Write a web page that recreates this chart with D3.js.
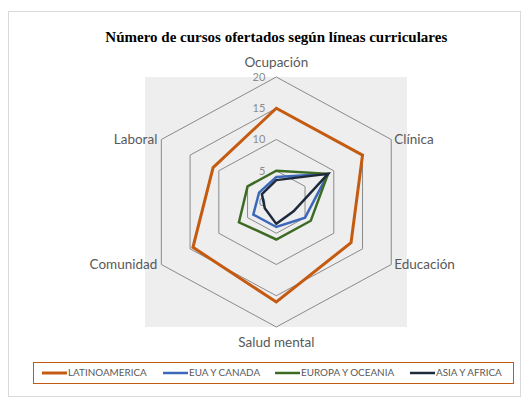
<!DOCTYPE html>
<html>
<head>
<meta charset="utf-8">
<script src="https://cdn.jsdelivr.net/npm/d3@7"></script>
<style>
  body { margin: 0; background: #fff; }
  svg { display: block; }
</style>
</head>
<body>
<div id="chart"></div>
<script>
// axes, clockwise from the top
const axes = ['Ocupación', 'Clínica', 'Educación', 'Salud mental', 'Comunidad', 'Laboral'];
const seriesNames = ['LATINOAMERICA', 'EUA Y CANADA', 'EUROPA Y OCEANIA', 'ASIA Y AFRICA'];
const latinoamerica = [15, 15, 13, 16, 14.5, 11];
const euaCanada = [4, 9, 5, 4, 4, 3];
const europaOceania = [5, 9, 6, 6, 6.5, 5];
const asiaAfrica = [3.5, 9, 3, 3.5, 2, 2.5];
const ringTicks = [0, 5, 10, 15, 20];

const W = 529, H = 403;
const cx = 276.3, cy = 202;
const stretchX = 1.062; // the source picture is slightly wider than tall
const colors = ['#c55a11', '#3d68b8', '#3e6b24', '#1e2a3c'];
const widths = [3, 2.5, 2.5, 2.5];

const svg = d3.select('#chart').append('svg')
    .attr('width', W)
    .attr('height', H);

// outer chart border
svg.append('rect')
    .attr('x', 8.5).attr('y', 11.5)
    .attr('width', 512).attr('height', 385)
    .attr('fill', '#fff')
    .attr('stroke', '#d9d9d9');

// title
svg.append('text')
    .attr('x', cx)
    .attr('y', 42)
    .attr('text-anchor', 'middle')
    .style('font-family', '"Liberation Serif", "Times New Roman", serif')
    .style('font-weight', 'bold')
    .style('font-size', '15px')
    .style('fill', '#000')
    .text('Número de cursos ofertados según líneas curriculares');

const r = d3.scaleLinear().domain([0, 20]).range([0, 125]);
const angle = d3.scaleLinear().domain([0, axes.length]).range([0, 2 * Math.PI]);

function pt(i, v) {
    const a = angle(i);
    return [cx + stretchX * r(v) * Math.sin(a), cy - r(v) * Math.cos(a)];
}

// plot area background
svg.append('rect')
    .attr('x', 145).attr('y', 77)
    .attr('width', 262).attr('height', 250)
    .attr('fill', '#eeeeee');

const line = d3.line().curve(d3.curveLinearClosed);

// rings
svg.append('g')
    .selectAll('path')
    .data(ringTicks.filter(t => t > 0))
    .enter().append('path')
    .attr('d', t => line(axes.map((_, i) => pt(i, t))))
    .attr('fill', 'none')
    .attr('stroke', '#8a8a8a')
    .attr('stroke-width', 1);

// tick labels
svg.append('g')
    .selectAll('text')
    .data(ringTicks)
    .enter().append('text')
    .attr('x', cx - 11)
    .attr('y', t => pt(0, t)[1])
    .attr('dy', '0.35em')
    .attr('text-anchor', 'end')
    .style('font-family', 'Lato, "Open Sans", sans-serif')
    .style('font-size', '11px')
    .style('fill', '#8c8c8c')
    .text(d => d);

// axis labels
const labelG = svg.append('g')
    .style('font-family', 'Lato, "Open Sans", sans-serif')
    .style('font-size', '13.5px')
    .style('fill', '#595959');

axes.forEach((name, i) => {
    const [x, y] = pt(i, 20);
    const s = Math.sin(angle(i)), c = Math.cos(angle(i));
    let anchor = 'middle', dx = 0, dy = 0;
    if (s > 0.1) { anchor = 'start'; dx = 3; }
    else if (s < -0.1) { anchor = 'end'; dx = -4; }
    else { dy = c > 0 ? -15 : 15; }
    labelG.append('text')
        .attr('x', x + dx)
        .attr('y', y + dy)
        .attr('dy', '0.35em')
        .attr('text-anchor', anchor)
        .text(name);
});

// series
const allSeries = [latinoamerica, euaCanada, europaOceania, asiaAfrica];
svg.append('g')
    .selectAll('path')
    .data(allSeries)
    .enter().append('path')
    .attr('d', vals => line(vals.map((v, i) => pt(i, v))))
    .attr('fill', 'none')
    .attr('stroke', (d, i) => colors[i])
    .attr('stroke-width', (d, i) => widths[i])
    .attr('stroke-linejoin', 'miter');

// legend
svg.append('rect')
    .attr('x', 33.5).attr('y', 362.5)
    .attr('width', 480).attr('height', 21)
    .attr('fill', '#fff')
    .attr('stroke', '#c55a11')
    .attr('stroke-width', 1);

const legendX = [42, 163, 275, 410];
const legend = svg.append('g')
    .selectAll('g')
    .data(seriesNames)
    .enter().append('g')
    .attr('transform', (d, i) => `translate(${legendX[i]},373)`);

legend.append('line')
    .attr('x1', 0).attr('x2', 25)
    .attr('stroke', (d, i) => colors[i])
    .attr('stroke-width', (d, i) => widths[i]);

legend.append('text')
    .attr('x', 26)
    .attr('dy', '0.35em')
    .style('font-family', 'Lato, "Open Sans", sans-serif')
    .style('font-size', '9.9px')
    .style('fill', '#595959')
    .text(d => d);
</script>
</body>
</html>
